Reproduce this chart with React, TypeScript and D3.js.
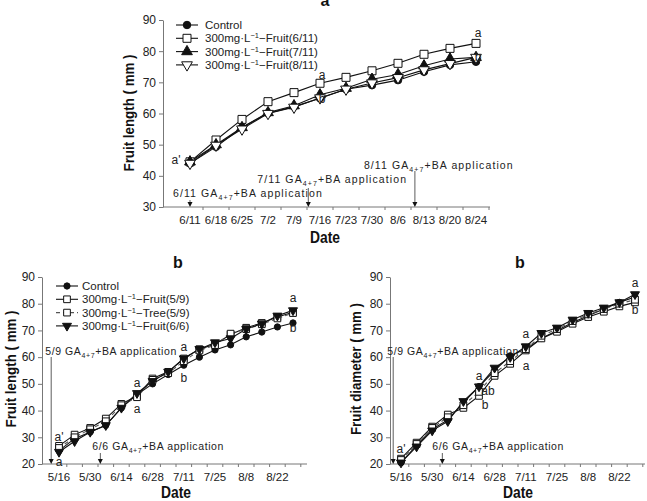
import { useEffect, useRef } from "react";
import * as d3 from "d3";

// panel a: weekly sampling after the first treatment
const datesA = ["6/11", "6/18", "6/25", "7/2", "7/9", "7/16", "7/23", "7/30", "8/6", "8/13", "8/20", "8/24"];
const controlA = [44, 49.3, 55.5, 60.1, 62.2, 64.9, 67.8, 69.1, 70.7, 73.4, 75.6, 76.6];
const fruit0611A = [44.5, 51.5, 58.1, 63.8, 66.7, 69.7, 71.6, 73.7, 76.1, 79, 80.9, 82.5];
const fruit0711A = [44.5, 50, 55.5, 60.3, 62.5, 66, 68.1, 71, 72.5, 75.3, 77.5, 78];
const fruit0811A = [44, 49.8, 55, 60, 62, 65, 67.8, 69.8, 71.5, 74, 76, 78];

// panels b: weekly sampling from 5/16
const datesB = ["5/16", "5/23", "5/30", "6/7", "6/14", "6/21", "6/28", "7/4", "7/11", "7/18", "7/25", "8/1", "8/8", "8/15", "8/22", "8/29"];
const lenControl = [25, 29.5, 32, 34.5, 41, 46, 50, 53.5, 57, 60, 62.7, 64.6, 67.6, 69.4, 71.3, 72.8];
const lenFruit0509 = [26.8, 31, 33.5, 37, 42.5, 45.5, 52, 54.5, 59.5, 63, 64.8, 68.5, 71, 72.8, 75, 76.8];
const lenTree0509 = [26, 30, 33, 36, 42, 45, 51.5, 54, 58.5, 62.5, 64.5, 68.8, 70.5, 72.3, 74.5, 76.5];
const lenFruit0606 = [24.5, 28.5, 32, 34.5, 41, 46.5, 51, 54.5, 59.5, 63, 65.5, 67, 70.5, 72.5, 75.5, 77.5];

const diaControl = [20.5, 27, 33, 36.5, 43, 49, 55, 60.5, 63, 67, 70, 73, 75.5, 78, 80.5, 82.5];
const diaFruit0509 = [22, 28, 34, 38.5, 41, 45.5, 53, 57.5, 62.5, 67, 69.5, 72.5, 75, 77, 79, 80.5];
const diaTree0509 = [21.5, 27.5, 33.5, 37.5, 42, 47, 54, 58.5, 63, 68, 70.5, 73.5, 76, 78, 80, 81.5];
const diaFruit0606 = [20.5, 26.5, 32.5, 36, 43.5, 49, 56, 60, 64, 69, 71, 74, 76.5, 78.5, 80.5, 83.5];

const ticksA = [30, 40, 50, 60, 70, 80, 90];
const ticksB = [20, 30, 40, 50, 60, 70, 80, 90];

const SANS = "'Liberation Sans', Arial, sans-serif";

type Series = { name: string; values: number[]; symbol: string; fill: string; dash?: string };
type Note = { text: string; i: number; dy: number; dx?: number };
type App = { date: string; at: number; top: number; tx: number; ty: number };

const symbolOf = (s: string) =>
  s === "circle" ? d3.symbolCircle : s === "square" ? d3.symbolSquare : d3.symbolTriangle;

function addMarker(g: any, s: Series, x: number, y: number, k: number) {
  const size = (s.symbol === "circle" ? 44 : s.symbol === "square" ? 64 : 50) * k;
  g.append("path")
    .attr("d", d3.symbol().type(symbolOf(s.symbol)).size(size)())
    .attr("transform", `translate(${x},${y})${s.symbol === "down" ? " rotate(180)" : ""}`)
    .attr("fill", s.fill)
    .attr("stroke", "#111")
    .attr("stroke-width", 1);
}

function appText(t: any, date: string) {
  t.append("tspan").text(`${date} GA`);
  t.append("tspan").attr("font-size", 7).attr("dy", 3).text("4+7");
  t.append("tspan").attr("dy", -3).text("+BA application");
}

function legendText(t: any, name: string) {
  if (name === "Control") {
    t.text(name);
    return;
  }
  t.append("tspan").text("300mg·L");
  t.append("tspan").attr("font-size", 7.5).attr("dy", -4).text("−1");
  t.append("tspan").attr("dy", 4).text(name);
}

function drawPanel(svg: any, cfg: any) {
  const { left, right, top, bottom, domain, ticks, cats, x0, step, series, labels, mk } = cfg;
  const g = svg.append("g");
  const y = d3.scaleLinear().domain(domain).range([bottom, top]);
  const x = d3
    .scaleBand<string>()
    .domain(cats)
    .range([x0 - step / 2, x0 - step / 2 + step * cats.length]);
  const cx = (i: number) => (x(cats[0]) as number) + step / 2 + i * step;

  // y axis
  const ya = g.append("g").attr("transform", `translate(${left},0)`)
    .call(d3.axisLeft(y).tickValues(ticks).tickSize(4).tickSizeOuter(0));
  ya.select(".domain").attr("stroke", "#777");
  ya.selectAll(".tick line").attr("stroke", "#777");
  ya.selectAll(".tick text").attr("font-family", SANS).attr("font-size", 12).attr("fill", "#222");

  // x axis with ticks between categories
  g.append("line").attr("x1", left).attr("x2", right).attr("y1", bottom).attr("y2", bottom)
    .attr("stroke", "#777");
  for (let k = 1; k <= cats.length; k++) {
    const tx = (x(cats[0]) as number) + k * step;
    if (tx > right) break;
    g.append("line").attr("x1", tx).attr("x2", tx).attr("y1", bottom).attr("y2", bottom + 3)
      .attr("stroke", "#777");
  }
  cats.forEach((c: string, i: number) => {
    if (i % cfg.labelEvery !== 0) return;
    g.append("text").attr("x", cx(i)).attr("y", bottom + 17).attr("text-anchor", "middle")
      .attr("font-family", SANS).attr("font-size", 11.5).attr("fill", "#222").text(c);
  });

  // application arrows
  cfg.apps.forEach((a: App) => {
    const ax = cx(a.at);
    g.append("line").attr("x1", ax).attr("x2", ax).attr("y1", a.top).attr("y2", bottom - 4)
      .attr("stroke", "#333").attr("stroke-width", 0.8);
    g.append("path").attr("d", `M${ax - 2.5},${bottom - 5}L${ax + 2.5},${bottom - 5}L${ax},${bottom}Z`)
      .attr("fill", "#111");
    const t = g.append("text").attr("x", ax + a.tx).attr("y", a.ty)
      .attr("font-family", SANS).attr("font-size", 10.5).attr("letter-spacing", cfg.appSpacing)
      .attr("fill", "#222");
    appText(t, a.date);
  });

  // series lines then markers
  const line = d3.line<number>().x((_, i) => cx(i)).y((v) => y(v));
  series.forEach((s: Series) => {
    g.append("path").datum(s.values).attr("d", line).attr("fill", "none")
      .attr("stroke", s.dash ? "#555" : "#111").attr("stroke-width", 1.1)
      .attr("stroke-dasharray", s.dash || null);
  });
  series.forEach((s: Series) => s.values.forEach((v, i) => addMarker(g, s, cx(i), y(v), mk)));

  // significance letters
  cfg.notes.forEach((n: Note) => {
    const ref = d3.max(series, (s: Series) => s.values[n.i]) as number;
    g.append("text").attr("x", cx(n.i) + (n.dx || 0)).attr("y", y(ref) + n.dy)
      .attr("text-anchor", "middle").attr("font-family", SANS).attr("font-size", 12)
      .attr("fill", "#222").text(n.text);
  });

  // legend
  if (cfg.legend) {
    const { lx, ly, gap, text } = cfg.legend;
    series.forEach((s: Series, k: number) => {
      const yy = ly + k * gap;
      g.append("line").attr("x1", lx - 11).attr("x2", lx + 11).attr("y1", yy).attr("y2", yy)
        .attr("stroke", s.dash ? "#555" : "#111").attr("stroke-width", 1.1)
        .attr("stroke-dasharray", s.dash || null);
      addMarker(g, s, lx, yy, mk);
      const t = g.append("text").attr("x", text).attr("y", yy + 4)
        .attr("font-family", SANS).attr("font-size", 11.5).attr("fill", "#222");
      legendText(t, s.name);
    });
  }

  // titles, squeezed into a narrow bold face
  g.append("text").attr("x", labels.dateX - 15).attr("y", labels.dateY)
    .attr("textLength", 30).attr("lengthAdjust", "spacingAndGlyphs")
    .attr("font-family", SANS).attr("font-weight", "bold").attr("font-size", 16).attr("fill", "#111")
    .text("Date");
  g.append("text").attr("transform", `translate(${labels.yX},${labels.yY + labels.yLen / 2}) rotate(-90)`)
    .attr("dominant-baseline", "central")
    .attr("textLength", labels.yLen).attr("lengthAdjust", "spacingAndGlyphs")
    .attr("font-family", SANS).attr("font-weight", "bold").attr("font-size", 15).attr("fill", "#111")
    .text(labels.yText);
  g.append("text").attr("x", labels.tX).attr("y", labels.tY).attr("text-anchor", "middle")
    .attr("font-family", SANS).attr("font-weight", "bold").attr("font-size", 16).attr("fill", "#111")
    .text(labels.title);
}

export default function App() {
  const ref = useRef<SVGSVGElement>(null);
  useEffect(() => {
    if (!ref.current) return;
    const svg = d3.select(ref.current);
    svg.selectAll("*").remove();

    const seriesA: Series[] = [
      { name: "Control", values: controlA, symbol: "circle", fill: "#111" },
      { name: "−Fruit(6/11)", values: fruit0611A, symbol: "square", fill: "#fff" },
      { name: "−Fruit(7/11)", values: fruit0711A, symbol: "triangle", fill: "#111" },
      { name: "−Fruit(8/11)", values: fruit0811A, symbol: "down", fill: "#fff" },
    ];
    drawPanel(svg, {
      left: 163, right: 490, top: 20, bottom: 207, domain: [30, 90], ticks: ticksA,
      cats: datesA, x0: 190, step: 26, labelEvery: 1, series: seriesA, mk: 1,
      appSpacing: 1.1,
      apps: [
        { date: "6/11", at: 0, top: 200, tx: -17, ty: 197 },
        { date: "7/11", at: 4.55, top: 188, tx: -51, ty: 183 },
        { date: "8/11", at: 8.65, top: 171, tx: -51, ty: 169 },
      ],
      notes: [
        { text: "a'", i: 0, dy: 2, dx: -14 },
        { text: "a", i: 5, dy: -4, dx: 2 },
        { text: "b", i: 5, dy: 20, dx: 2 },
        { text: "a", i: 11, dy: -6, dx: 2 },
        { text: "b", i: 11, dy: 18, dx: 2 },
      ],
      legend: { lx: 187, ly: 25, gap: 13.3, text: 205 },
      labels: { dateX: 325, dateY: 243, yX: 128, yY: 113, yLen: 117, yText: "Fruit length ( mm )", tX: 325, tY: 6, title: "a" },
    });

    const seriesL: Series[] = [
      { name: "Control", values: lenControl, symbol: "circle", fill: "#111" },
      { name: "−Fruit(5/9)", values: lenFruit0509, symbol: "square", fill: "#fff" },
      { name: "−Tree(5/9)", values: lenTree0509, symbol: "square", fill: "#fff", dash: "4,3" },
      { name: "−Fruit(6/6)", values: lenFruit0606, symbol: "down", fill: "#111" },
    ];
    const bApps = (tx6: number) => [
      { date: "5/9", at: -0.5, top: 357, tx: -6, ty: 355 },
      { date: "6/6", at: 2.65, top: 453, tx: tx6, ty: 450 },
    ];
    drawPanel(svg, {
      left: 42, right: 307, top: 277, bottom: 464, domain: [20, 90], ticks: ticksB,
      cats: datesB, x0: 59, step: 15.6, labelEvery: 2, series: seriesL, mk: 0.7,
      appSpacing: 0.6,
      apps: bApps(-8),
      notes: [
        { text: "a'", i: 0, dy: -5 },
        { text: "a", i: 0, dy: 20 },
        { text: "a", i: 5, dy: -6 },
        { text: "a", i: 5, dy: 20 },
        { text: "a", i: 8, dy: -7 },
        { text: "b", i: 8, dy: 24 },
        { text: "a", i: 15, dy: -8 },
        { text: "b", i: 15, dy: 22 },
      ],
      legend: { lx: 67, ly: 286, gap: 13.3, text: 82 },
      labels: { dateX: 176, dateY: 498, yX: 10, yY: 369, yLen: 117, yText: "Fruit length ( mm )", tX: 178, tY: 268, title: "b" },
    });

    const seriesR: Series[] = [
      { name: "Control", values: diaControl, symbol: "circle", fill: "#111" },
      { name: "−Fruit(5/9)", values: diaFruit0509, symbol: "square", fill: "#fff" },
      { name: "−Tree(5/9)", values: diaTree0509, symbol: "square", fill: "#fff", dash: "4,3" },
      { name: "−Fruit(6/6)", values: diaFruit0606, symbol: "down", fill: "#111" },
    ];
    drawPanel(svg, {
      left: 390, right: 645, top: 277, bottom: 464, domain: [20, 90], ticks: ticksB,
      cats: datesB, x0: 401, step: 15.6, labelEvery: 2, series: seriesR, mk: 0.7,
      appSpacing: 0.6,
      apps: bApps(-10),
      notes: [
        { text: "a'", i: 0, dy: -6 },
        { text: "a", i: 5, dy: -7 },
        { text: "ab", i: 5, dy: 8, dx: 9 },
        { text: "b", i: 5, dy: 22, dx: 6 },
        { text: "a", i: 8, dy: -8 },
        { text: "a", i: 7, dy: 14, dx: 16 },
        { text: "a", i: 15, dy: -7 },
        { text: "b", i: 15, dy: 20 },
      ],
      labels: { dateX: 518, dateY: 498, yX: 355, yY: 369, yLen: 132, yText: "Fruit diameter ( mm )", tX: 520, tY: 268, title: "b" },
    });
  }, []);

  return (
    <svg
      ref={ref}
      width={647}
      height={501}
      style={{ position: "absolute", left: 0, top: 0, background: "#fff" }}
    />
  );
}
